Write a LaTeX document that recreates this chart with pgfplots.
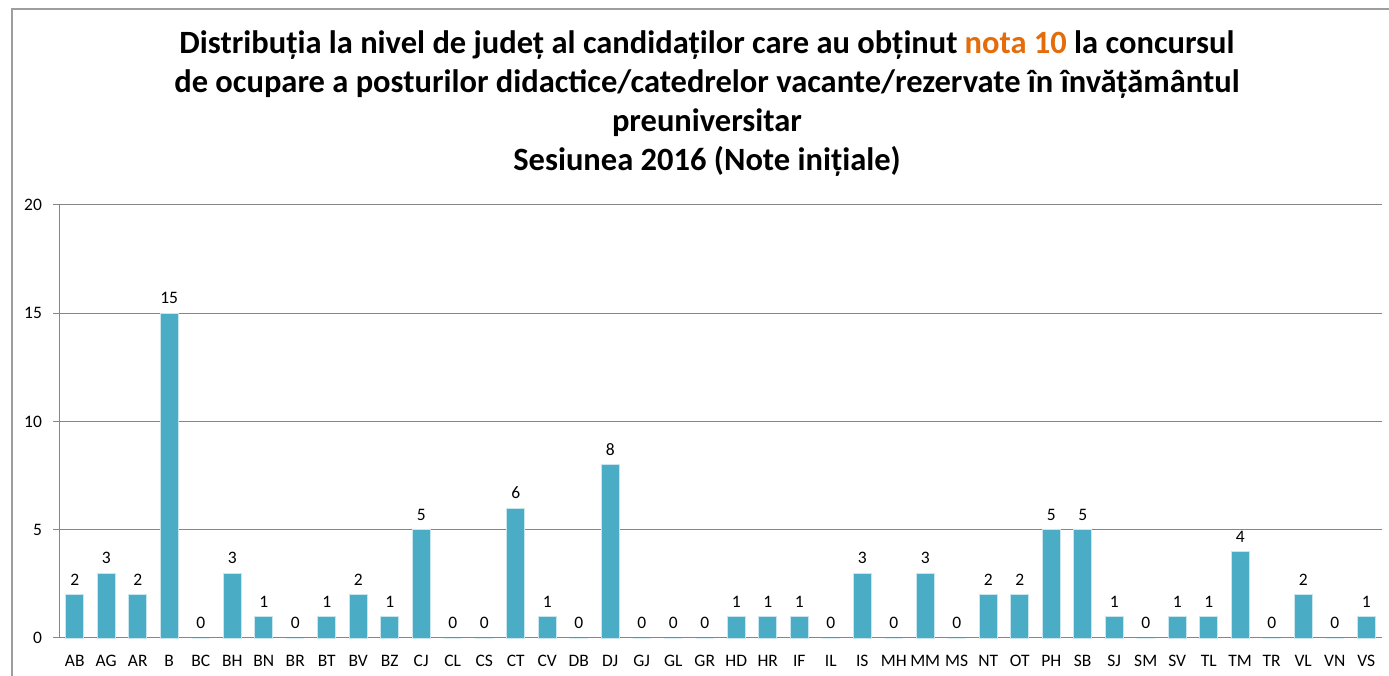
\documentclass[border=0pt]{standalone}
\usepackage{pgfplots}
\pgfplotsset{compat=1.18}
\usepackage{fontspec}
\setmainfont{Carlito}
\definecolor{barc}{HTML}{4BACC6}
\definecolor{barl}{HTML}{C9E6EE}
\definecolor{orng}{HTML}{E46C0A}
\definecolor{gridc}{HTML}{868686}
\begin{document}
\begin{tikzpicture}[x=1pt,y=1pt]
\path[use as bounding box] (0,0) rectangle (1389,676);
\draw[gridc!80, line width=1.3pt] (12,0) -- (12,667) -- (1389,667);
\node[align=center, font=\fontsize{32.5}{39}\selectfont\bfseries, anchor=center] at (707,572)
{Distribuția la nivel de județ al candidaților care au obținut \textcolor{orng}{nota 10} la concursul\\
de ocupare a posturilor didactice/catedrelor vacante/rezervate în învățământul\\
preuniversitar\\
Sesiunea 2016 (Note inițiale)};
\begin{axis}[
  at={(59pt,38pt)}, anchor=south west,
  scale only axis, width=1323pt, height=433pt,
  xmin=-0.5, xmax=41.5, ymin=0, ymax=20,
  ytick={0,5,10,15,20},
  axis x line*=bottom, axis y line*=left,
  axis line style={gridc, line width=1pt},
  ymajorgrids, grid style={gridc, line width=1pt},
  tick align=outside, major tick length=6pt, minor tick length=7pt,
  tick style={gridc, line width=1pt},
  xtick style={draw=none},
  xtick={0,...,41},
  minor xtick={-0.5,0.5,...,41.5},
  xticklabels={AB,AG,AR,B,BC,BH,BN,BR,BT,BV,BZ,CJ,CL,CS,CT,CV,DB,DJ,GJ,GL,GR,HD,HR,IF,IL,IS,MH,MM,MS,NT,OT,PH,SB,SJ,SM,SV,TL,TM,TR,VL,VN,VS},
  /pgf/number format/assume math mode=true,
  ticklabel style={font=\fontsize{17.5}{21}\selectfont},
  yticklabel style={xshift=-7.5pt},
  xticklabel style={yshift=-7.5pt},
  ybar, bar width=18pt,
  nodes near coords,
  every node near coord/.append style={font=\fontsize{17.5}{21}\selectfont, text=black, yshift=5.5pt},
  clip=false,
]
\addplot[fill=barc, draw=barl, line width=0.8pt] coordinates {
(0,2)(1,3)(2,2)(3,15)(4,0)(5,3)(6,1)(7,0)(8,1)(9,2)(10,1)(11,5)(12,0)(13,0)(14,6)(15,1)(16,0)(17,8)(18,0)(19,0)(20,0)(21,1)(22,1)(23,1)(24,0)(25,3)(26,0)(27,3)(28,0)(29,2)(30,2)(31,5)(32,5)(33,1)(34,0)(35,1)(36,1)(37,4)(38,0)(39,2)(40,0)(41,1)};
\end{axis}
\end{tikzpicture}
\end{document}
